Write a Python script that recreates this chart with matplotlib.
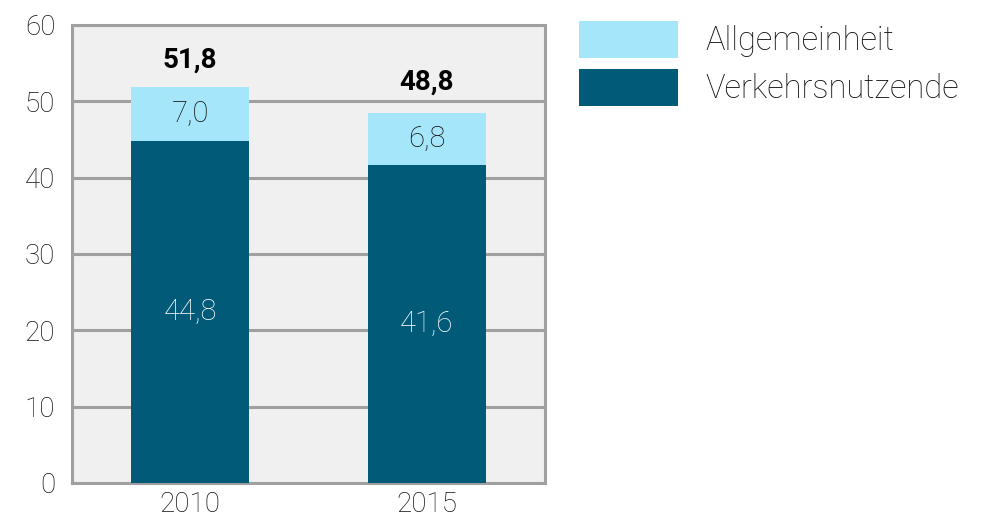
import matplotlib
matplotlib.use("Agg")
import matplotlib.pyplot as plt
import numpy as np

# Daten
jahre = ["2010", "2015"]
verkehrsnutzende = [44.8, 41.6]
allgemeinheit = [7.0, 6.8]
summen = [51.8, 48.8]
y_ticks = [0, 10, 20, 30, 40, 50, 60]

dunkel = "#005a78"
hell = "#a5e6fb"
grau = "#a0a0a0"

plt.rcParams["font.family"] = ["Roboto", "DejaVu Sans"]

fig = plt.figure(figsize=(9.81, 5.2), dpi=100)
ax = fig.add_axes([0.0734, 0.0712, 0.4822, 0.881])
ax.set_facecolor("#f0f0f0")

x = np.arange(len(jahre))
b1 = ax.bar(x, verkehrsnutzende, width=0.5, color=dunkel, zorder=3, label="Verkehrsnutzende")
b2 = ax.bar(x, allgemeinheit, width=0.5, bottom=verkehrsnutzende, color=hell, zorder=3, label="Allgemeinheit")

def fmt(v):
    return f"{v:.1f}".replace(".", ",")

for i in range(len(jahre)):
    ax.text(x[i], verkehrsnutzende[i] / 2, fmt(verkehrsnutzende[i]), ha="center", va="center",
            color="white", fontsize=21, fontweight="light", zorder=4)
    ax.text(x[i], verkehrsnutzende[i] + allgemeinheit[i] / 2, fmt(allgemeinheit[i]), ha="center",
            va="center", color="#111111", fontsize=21, fontweight="light", zorder=4)
    ax.annotate(fmt(summen[i]), (x[i], summen[i]), xytext=(0, 20), textcoords="offset points",
                ha="center", va="center", fontsize=20, fontweight="bold", color="black", zorder=4)

ax.set_xlim(-0.5, 1.5)
ax.set_ylim(0, 60)
ax.set_xticks(x)
ax.set_xticklabels(jahre)
ax.set_yticks(y_ticks)
ax.tick_params(axis="both", length=0, labelsize=20, colors="#111111")
ax.tick_params(axis="y", pad=12)
ax.tick_params(axis="x", pad=6)
for lbl in ax.get_xticklabels() + ax.get_yticklabels():
    lbl.set_fontweight("light")

ax.yaxis.grid(True, color=grau, linewidth=2.2, zorder=1)
ax.set_axisbelow(True)
for s in ax.spines.values():
    s.set_color(grau)
    s.set_linewidth(2.2)

leg = fig.legend([b2, b1], ["Allgemeinheit", "Verkehrsnutzende"], loc="upper left",
                 bbox_to_anchor=(579 / 981, 1 - 21 / 520), frameon=False, fontsize=23.5,
                 handlelength=3.04, handleheight=1.35, handletextpad=0.83, labelspacing=0.35,
                 borderpad=0, borderaxespad=0)
for t in leg.get_texts():
    t.set_fontweight("light")
    t.set_color("#111111")

fig.savefig("out.png", dpi=100)
